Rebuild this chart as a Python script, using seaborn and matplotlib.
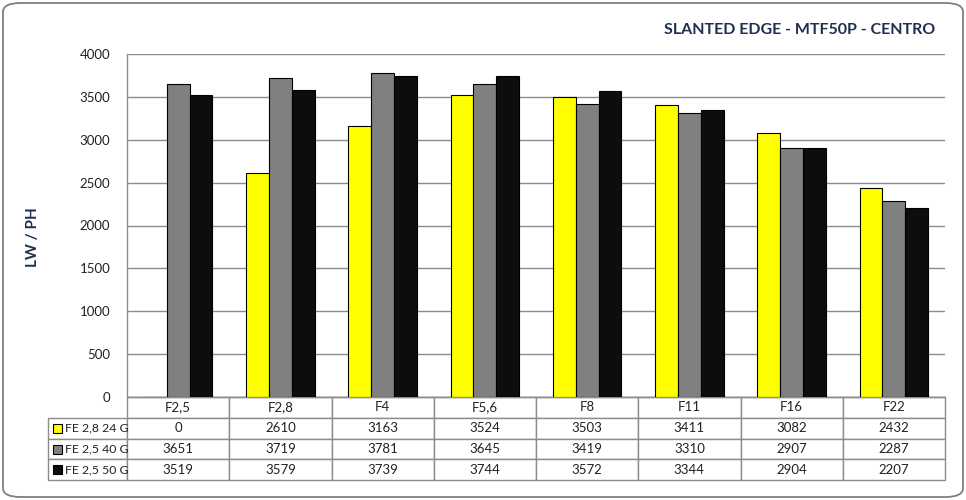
import numpy as np
import pandas as pd
import seaborn as sns
import matplotlib.pyplot as plt
from matplotlib.patches import FancyBboxPatch, Rectangle

# dati
aperture = ['F2,5', 'F2,8', 'F4', 'F5,6', 'F8', 'F11', 'F16', 'F22']
serie = ['FE 2,8 24 G', 'FE 2,5 40 G', 'FE 2,5 50 G']
fe28_24 = [0, 2610, 3163, 3524, 3503, 3411, 3082, 2432]
fe25_40 = [3651, 3719, 3781, 3645, 3419, 3310, 2907, 2287]
fe25_50 = [3519, 3579, 3739, 3744, 3572, 3344, 2904, 2207]
colori = ['#FFFF00', '#808080', '#0D0D0D']

valori = [fe28_24, fe25_40, fe25_50]
df = pd.DataFrame({
    'apertura': np.tile(aperture, len(serie)),
    'serie': np.repeat(serie, len(aperture)),
    'valore': np.concatenate(valori),
})

sns.set_style('white')
plt.rcParams['font.family'] = ['Lato', 'DejaVu Sans']
navy = '#1F2F4F'
grid_c = '#8C8C8C'

fig = plt.figure(figsize=(9.66, 5), dpi=100)
ax = fig.add_axes([127 / 966, 103 / 500, 818 / 966, 343 / 500])

sns.barplot(data=df, x='apertura', y='valore', hue='serie', order=aperture,
            hue_order=serie, palette=colori, width=0.67, edgecolor='black',
            linewidth=0.8, saturation=1, legend=False, ax=ax, zorder=3)

ax.set_ylim(0, 4000)
ax.set_xlim(-0.5, len(aperture) - 0.5)
ax.set_yticks(range(0, 4001, 500))
ax.yaxis.grid(True, color=grid_c, linewidth=1)
ax.set_axisbelow(True)
ax.tick_params(axis='y', length=0, pad=12, labelsize=9.5, labelcolor='#222222')
ax.set_xticks([])
ax.set_xlabel('')
ax.set_ylabel('LW / PH', fontsize=11, fontweight='bold', color=navy)
ax.yaxis.set_label_coords(-0.106, 0.466)
for s in ['top', 'right']:
    ax.spines[s].set_visible(False)
for s in ['left', 'bottom']:
    ax.spines[s].set_color(grid_c)
    ax.spines[s].set_linewidth(1)

# tabella dati sotto il grafico
ax_h = 343.0
ax_w = 818.0
row_h = 20.8 / ax_h
lab_w = 79 / ax_w
celle = [[''] + [str(v) for v in vals] for vals in valori]
tab = ax.table(cellText=celle, colLabels=[''] + aperture,
               colWidths=[lab_w] + [1 / len(aperture)] * len(aperture),
               cellLoc='center',
               bbox=[-lab_w, -4 * row_h, 1 + lab_w, 4 * row_h])
tab.auto_set_font_size(False)
tab.set_fontsize(9.5)
for (r, c), cell in tab.get_celld().items():
    cell.set_edgecolor(grid_c)
    cell.set_linewidth(1)
    cell.get_text().set_color('#222222')
    if r == 0 and c == 0:
        cell.visible_edges = ''

for i, (nome, col) in enumerate(zip(serie, colori)):
    yc = -(i + 1.5) * row_h
    ax.add_patch(Rectangle((-lab_w + 5 / ax_w, yc - 4.5 / ax_h), 9 / ax_w, 9 / ax_h,
                           facecolor=col, edgecolor='black', linewidth=0.8,
                           transform=ax.transAxes, clip_on=False))
    ax.text(-lab_w + 17 / ax_w, yc, nome, transform=ax.transAxes,
            ha='left', va='center', fontsize=8.8, color='#222222')

fig.text(935 / 966, 1 - 30 / 500, 'SLANTED EDGE - MTF50P - CENTRO', ha='right',
         va='center', fontsize=11.5, fontweight='bold', color=navy)

bordo = FancyBboxPatch((3 / 966, 3 / 500), 960 / 966, 494 / 500,
                       boxstyle='round,pad=0,rounding_size=0.018',
                       transform=fig.transFigure, facecolor='none',
                       edgecolor='#7F7F7F', linewidth=1.3)
fig.add_artist(bordo)

fig.savefig('out.png', dpi=100)
